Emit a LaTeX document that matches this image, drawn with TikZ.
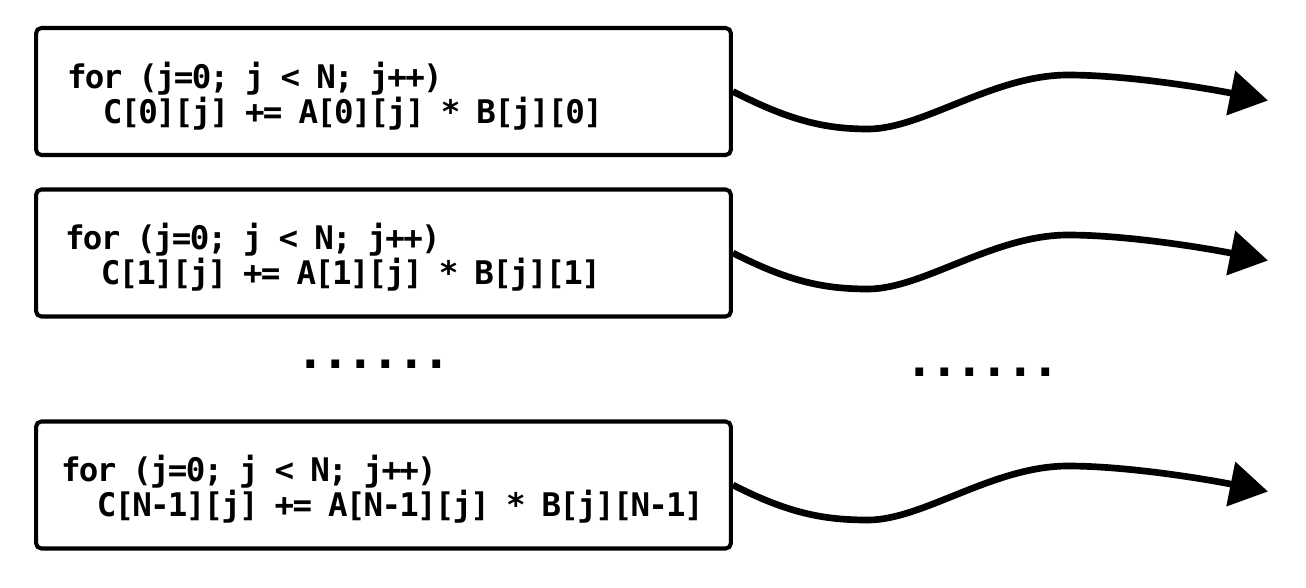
\documentclass[tikz,border=0pt]{standalone}
\usepackage{fontspec}
\newfontfamily\codefam{DejaVu Sans Mono}[BoldFont={DejaVu Sans Mono Bold}]
\usetikzlibrary{arrows.meta}
% every character gets the same width
\newlength{\monowd}
\makeatletter
\newcommand{\mono}[1]{\mono@loop#1\mono@end}
\def\mono@end{\mono@end}
\def\mono@loop#1{\ifx#1\mono@end\else\makebox[\monowd][c]{#1}\expandafter\mono@loop\fi}
\makeatother
\newcommand{\codefont}{\codefam\bfseries\fontsize{18.5}{19.84}\selectfont\setlength{\monowd}{0.356cm}}
\tikzset{
  codebox/.style={draw, line width=2.3pt, rounded corners=3pt,
    minimum height=2.54cm, inner ysep=0pt, align=left, font=\codefont},
  wave/.style={line width=3.8pt, -{Triangle[length=0.76cm,width=0.88cm]}},
  dots/.style={font=\codefam\bfseries\fontsize{27}{30}\selectfont\setlength{\monowd}{0.504cm},
    inner sep=0pt, anchor=base}
}
\begin{document}
\begin{tikzpicture}[x=0.02cm,y=-0.02cm]
        \useasboundingbox (0,0) rectangle (1306,588);
        % boxes with the loops
        \node[codebox, inner xsep=0.64cm, text width=12.62cm] (b0) at (383.5,91.5)
          {\rule{0pt}{0.7cm}\mono{for~(j=0;~j~<~N;~j++)}\\
           \mono{~~C[0][j]~+=~A[0][j]~*~B[j][0]}\rule[-0.1cm]{0pt}{0pt}};
        \node[codebox, inner xsep=0.60cm, text width=12.70cm] (b1) at (383.5,253)
          {\rule{0pt}{0.7cm}\mono{for~(j=0;~j~<~N;~j++)}\\
           \mono{~~C[1][j]~+=~A[1][j]~*~B[j][1]}\rule[-0.1cm]{0pt}{0pt}};
        \node[codebox, inner xsep=0.52cm, text width=12.86cm] (b2) at (383.5,485)
          {\rule{0pt}{0.7cm}\mono{for~(j=0;~j~<~N;~j++)}\\
           \mono{~~C[N-1][j]~+=~A[N-1][j]~*~B[j][N-1]}\rule[-0.1cm]{0pt}{0pt}};
        % dots
        \node[dots] (dotsl) at (373.5,368.5) {\mono{......}};
        \node[dots] (dotsr) at (982.5,376.5) {\mono{......}};
        % wavy arrows
        \coordinate (e0) at (1268,100.5);
        \coordinate (e1) at (1268,260.5);
        \coordinate (e2) at (1268,491.5);
        \foreach \i/\dy in {0/0,1/160,2/391}
        \draw[wave, shift={(0,\dy)}] (b\i.east) .. controls +(55,28) and +(-45,0) .. (868,129)
          .. controls +(55,0) and +(-75,0) .. (1068,75)
          .. controls +(60,0) and +(-60,-12) .. (e\i);
\end{tikzpicture}
\end{document}
